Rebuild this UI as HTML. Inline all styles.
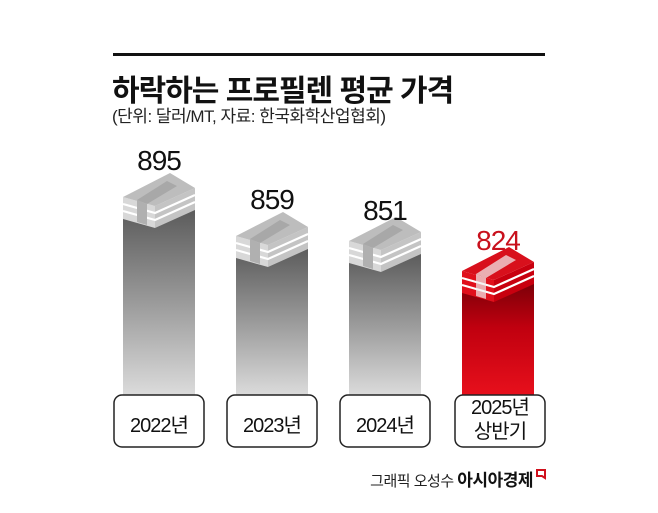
<!DOCTYPE html>
<html><head><meta charset="utf-8"><style>
body{margin:0;background:#fff;width:658px;height:513px;overflow:hidden;position:relative;font-family:"Liberation Sans","Noto Sans CJK KR",sans-serif}
.t{position:absolute;white-space:nowrap}
</style></head><body>
<svg width="658" height="513" style="position:absolute;left:0;top:0">
<defs>
<linearGradient id="g" x1="0" y1="0" x2="0" y2="1"><stop offset="0" stop-color="#5a5a5a"/><stop offset="0.5" stop-color="#9a9a9a"/><stop offset="1" stop-color="#dcdcdc"/></linearGradient>
<linearGradient id="r" x1="0" y1="0" x2="0" y2="1"><stop offset="0" stop-color="#7a0008"/><stop offset="0.4" stop-color="#c0000f"/><stop offset="1" stop-color="#e8101c"/></linearGradient>
<g id="stk">
<polygon points="0,24 32,33 32,55 0,46" fill="#d8d8d8"/>
<polygon points="32,33 72,15 72,37 32,55" fill="#c4c4c4"/>
<g stroke="#fff" stroke-width="2.2"><polyline points="0,31 32,40 72,22" fill="none"/><polyline points="0,38 32,47 72,29" fill="none"/></g>
<polygon points="47,0 72,15 32,33 0,24" fill="#bdbdbd"/>
<polygon points="44,8 54,13 24,31 14,27" fill="#a8a8a8"/>
<polygon points="14,27 24,31 24,52 14,49" fill="#b0b0b0"/>
</g>
<g id="stkr">
<polygon points="0,24 32,33 32,55 0,46" fill="#e0101c"/>
<polygon points="32,33 72,15 72,37 32,55" fill="#c8000f"/>
<g stroke="#fff" stroke-width="2.2"><polyline points="0,31 32,40 72,22" fill="none"/><polyline points="0,38 32,47 72,29" fill="none"/></g>
<polygon points="47,0 72,15 32,33 0,24" fill="#d8101c"/>
<polygon points="44,8 54,13 24,31 14,27" fill="#f2f2f2" opacity="0.7"/>
<polygon points="14,27 24,31 24,52 14,49" fill="#f0f0f0" opacity="0.7"/>
</g>
</defs>
<rect x="113" y="53" width="432" height="3" fill="#111"/>
<rect x="123" y="208" width="72" height="188" fill="url(#g)"/>
<rect x="236" y="247" width="72" height="149" fill="url(#g)"/>
<rect x="349" y="252" width="72" height="144" fill="url(#g)"/>
<rect x="462" y="282" width="72" height="114" fill="url(#r)"/>
<use href="#stk" x="123" y="173"/>
<use href="#stk" x="236" y="212"/>
<use href="#stk" x="349" y="217"/>
<use href="#stkr" x="462" y="247"/>
<g fill="#fff" stroke="#222" stroke-width="1.5">
<rect x="114" y="395" width="90" height="52" rx="8"/>
<rect x="227" y="395" width="90" height="52" rx="8"/>
<rect x="340" y="395" width="90" height="52" rx="8"/>
<rect x="455" y="395" width="90" height="52" rx="8"/>
</g>
<path d="M537 470 h8 v8 l-3 -2 h-5z" fill="none" stroke="#d0101c" stroke-width="2"/>
</svg>
<div class="t" style="left:112px;top:66px;font-size:30px;font-weight:bold;letter-spacing:-1px;color:#111">하락하는 프로필렌 평균 가격</div>
<div class="t" style="left:112px;top:102px;font-size:17px;letter-spacing:-0.5px;color:#222">(단위: 달러/MT, 자료: 한국화학산업협회)</div>
<div class="t" style="left:123px;top:145px;width:72px;text-align:center;font-size:28px;letter-spacing:-1px;color:#111">895</div>
<div class="t" style="left:236px;top:184px;width:72px;text-align:center;font-size:28px;letter-spacing:-1px;color:#111">859</div>
<div class="t" style="left:349px;top:195px;width:72px;text-align:center;font-size:28px;letter-spacing:-1px;color:#111">851</div>
<div class="t" style="left:462px;top:225px;width:72px;text-align:center;font-size:28px;letter-spacing:-1px;color:#c8101c">824</div>
<div class="t" style="left:114px;top:409px;width:90px;text-align:center;font-size:20px;letter-spacing:-1px;color:#111">2022년</div>
<div class="t" style="left:227px;top:409px;width:90px;text-align:center;font-size:20px;letter-spacing:-1px;color:#111">2023년</div>
<div class="t" style="left:340px;top:409px;width:90px;text-align:center;font-size:20px;letter-spacing:-1px;color:#111">2024년</div>
<div class="t" style="left:455px;top:396px;width:90px;text-align:center;font-size:20px;letter-spacing:-1px;line-height:24px;color:#111">2025년<br>상반기</div>
<div class="t" style="right:125px;top:466px;font-size:15px;letter-spacing:-0.5px;color:#222">그래픽 오성수 <b style="font-size:17px;color:#111">아시아경제</b></div>
</body></html>
